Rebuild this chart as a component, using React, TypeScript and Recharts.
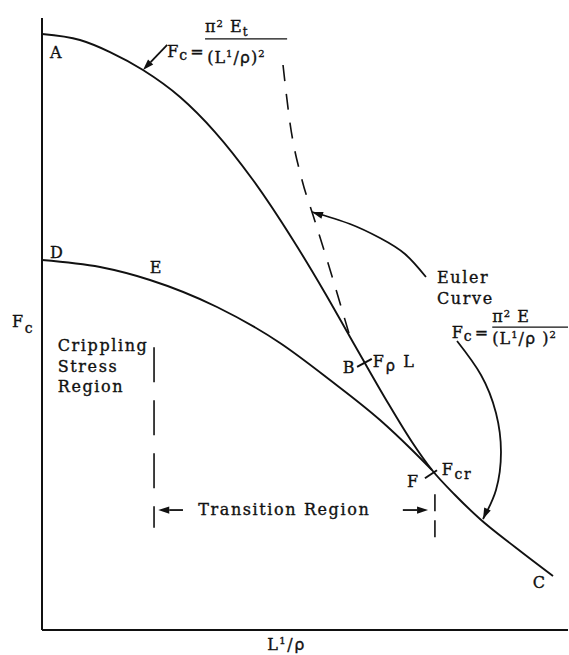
import React from 'react';
import { LineChart, Line, XAxis, YAxis, ReferenceLine, ReferenceDot } from 'recharts';

// Column curve: tangent-modulus branch from A, joining the Euler curve near B and running through F to C
const curveAC_x = [0, 7.22, 12.93, 19.2, 26.24, 32.89, 40.11, 47.72, 53.8, 58.56, 60.84, 65.78, 70.34, 74.14, 78.52, 83.27, 89.92, 97.15];
const curveAC_y = [97.39, 96.41, 94.44, 91.5, 87.09, 81.37, 73.53, 63.73, 55.07, 47.88, 44.44, 37.09, 30.72, 26.14, 22.06, 18.14, 13.56, 8.82];

// Euler curve above its tangency point (not valid there, drawn dashed)
const eulerUpper_x = [45.82, 47.15, 49.43, 51.52, 54.37, 58.56];
const eulerUpper_y = [92.32, 82.84, 73.53, 67.81, 59.97, 47.88];

// Crippling stress curve D–E running into F
const crippling_x = [0, 11.03, 20.53, 33.27, 45.25, 54.75, 64.26, 70.15, 74.14];
const crippling_y = [60.46, 59.31, 57.19, 52.78, 46.9, 40.85, 34.31, 29.58, 26.14];

// Curved leader from the "Euler Curve" note to the dashed branch
const eulerLeader_x = [73.0, 69.01, 64.26, 58.56, 51.33];
const eulerLeader_y = [57.68, 61.44, 64.05, 66.34, 68.3];

// Curved leader from the Euler formula down to the curve beyond F
const formulaLeader_x = [78.9, 83.46, 86.31, 87.26, 86.31, 83.84];
const formulaLeader_y = [47.22, 41.67, 35.46, 29.08, 22.88, 18.14];

const pts = (xs: number[], ys: number[]) => xs.map((x, i) => ({ x, y: ys[i] }));

const FONT = '"DejaVu Serif", "Liberation Serif", serif';
const GREEK = '"DejaVu Sans", sans-serif';
const INK = '#111';

type Pt = { x: number; y: number };

// Draws a filled arrowhead at (x2, y2), optionally with the shaft
const arrowShape = (withShaft: boolean) => (p: any) => {
  const { x1, y1, x2, y2 } = p;
  const a = Math.atan2(y2 - y1, x2 - x1);
  const len = 11;
  const half = 3.6;
  const bx = x2 - len * Math.cos(a);
  const by = y2 - len * Math.sin(a);
  const nx = -Math.sin(a) * half;
  const ny = Math.cos(a) * half;
  return (
    <g>
      {withShaft && <line x1={x1} y1={y1} x2={bx} y2={by} stroke={INK} strokeWidth={1.8} />}
      <polygon points={`${x2},${y2} ${bx + nx},${by + ny} ${bx - nx},${by - ny}`} fill={INK} />
    </g>
  );
};

type Note = { x: number; y: number; body: React.ReactNode; spacing?: number };

const notes: Note[] = [
  { x: 1.5, y: 93.5, body: 'A' },
  { x: 1.5, y: 60.8, body: 'D' },
  { x: 20.5, y: 58.3, body: 'E' },
  { x: 57.2, y: 42.0, body: 'B' },
  { x: 69.4, y: 23.4, body: 'F' },
  { x: 93.3, y: 6.9, body: 'C' },
  { x: 3.0, y: 45.6, body: 'Crippling' },
  { x: 3.0, y: 42.2, body: 'Stress' },
  { x: 3.0, y: 38.9, body: 'Region' },
  { x: 75.1, y: 56.7, body: 'Euler' },
  { x: 75.1, y: 53.3, body: 'Curve' },
  { x: 29.7, y: 18.8, body: 'Transition  Region' },
  { x: -5.7, y: 49.5, body: <>F<tspan dy={6} fontSize={14}>c</tspan></> },
  { x: 62.9, y: 43.0, body: <>F<tspan dy={4} fontFamily={GREEK} fontSize={15}>ρ</tspan><tspan dy={-4}> L</tspan></> },
  { x: 76.0, y: 25.3, body: <>F<tspan dy={4} fontSize={14}>cr</tspan></> },
  { x: 42.8, y: -3.3, body: <>L<tspan dy={-6} fontSize={10}>1</tspan><tspan dy={6}>/</tspan><tspan fontFamily={GREEK}>ρ</tspan></> },
  // tangent-modulus formula
  { x: 23.8, y: 93.6, spacing: 1, body: <>F<tspan dy={3} fontSize={14}>c</tspan><tspan dy={-3} dx={2}>=</tspan></> },
  { x: 31.0, y: 97.7, spacing: 1, body: <>π<tspan dy={-5} fontSize={10}>2</tspan><tspan dy={5}> E</tspan><tspan dy={4} fontSize={12}>t</tspan></> },
  { x: 31.4, y: 92.6, spacing: 1, body: <>(L<tspan dy={-6} fontSize={10}>1</tspan><tspan dy={6}>/</tspan><tspan fontFamily={GREEK}>ρ</tspan>)<tspan dy={-6} fontSize={10}>2</tspan></> },
  // Euler formula
  { x: 77.9, y: 47.7, spacing: 1, body: <>F<tspan dy={3} fontSize={14}>c</tspan><tspan dy={-3} dx={2}>=</tspan></> },
  { x: 85.6, y: 50.3, spacing: 1, body: <>π<tspan dy={-5} fontSize={10}>2</tspan><tspan dy={5}> E</tspan></> },
  { x: 85.6, y: 46.7, spacing: 1, body: <>(L<tspan dy={-6} fontSize={10}>1</tspan><tspan dy={6}>/</tspan><tspan fontFamily={GREEK}>ρ</tspan> )<tspan dy={-6} fontSize={10}>2</tspan></> },
];

type Seg = { from: Pt; to: Pt; dash?: string; width?: number; shape?: (p: any) => React.ReactElement };

const segments: Seg[] = [
  // axes
  { from: { x: 0, y: 0 }, to: { x: 100, y: 0 }, width: 2 },
  { from: { x: 0, y: 0 }, to: { x: 0, y: 100 }, width: 2 },
  // limits of the transition region
  { from: { x: 21.3, y: 46.2 }, to: { x: 21.3, y: 16.7 }, dash: '35 18', width: 1.6 },
  { from: { x: 74.7, y: 22.2 }, to: { x: 74.7, y: 15.0 }, dash: '17 9', width: 1.6 },
  // marks at B and F
  { from: { x: 59.9, y: 43.0 }, to: { x: 62.7, y: 44.3 }, width: 2 },
  { from: { x: 72.8, y: 24.8 }, to: { x: 75.1, y: 26.1 }, width: 2 },
  // fraction bars
  { from: { x: 31.0, y: 96.6 }, to: { x: 46.6, y: 96.6 }, width: 1.2 },
  { from: { x: 85.6, y: 49.5 }, to: { x: 100, y: 49.5 }, width: 1.2 },
  // straight leaders
  { from: { x: 23.8, y: 95.6 }, to: { x: 19.2, y: 91.5 }, shape: arrowShape(true) },
  { from: { x: 26.8, y: 19.6 }, to: { x: 22.1, y: 19.6 }, shape: arrowShape(true) },
  { from: { x: 68.6, y: 19.6 }, to: { x: 73.4, y: 19.6 }, shape: arrowShape(true) },
  // heads of the curved leaders
  { from: { x: 58.56, y: 66.34 }, to: { x: 51.33, y: 68.3 }, shape: arrowShape(false) },
  { from: { x: 86.31, y: 22.88 }, to: { x: 83.84, y: 18.14 }, shape: arrowShape(false) },
];

export default function App() {
  return (
    <div style={{ position: 'absolute', left: 0, top: 0, background: '#fff' }}>
      <LineChart width={569} height={655} margin={{ top: 18, right: 1, bottom: 25, left: 42 }}>
        <XAxis type="number" dataKey="x" domain={[0, 100]} hide allowDataOverflow />
        <YAxis type="number" dataKey="y" domain={[0, 100]} hide allowDataOverflow />

        {segments.map((s, i) => (
          <ReferenceLine
            key={`seg-${i}`}
            segment={[s.from, s.to]}
            stroke={INK}
            strokeWidth={s.width ?? 1.8}
            strokeDasharray={s.dash}
            ifOverflow="visible"
            shape={s.shape}
          />
        ))}

        <Line data={pts(curveAC_x, curveAC_y)} dataKey="y" type="monotone" stroke={INK} strokeWidth={1.9} dot={false} isAnimationActive={false} />
        <Line data={pts(eulerUpper_x, eulerUpper_y)} dataKey="y" type="monotone" stroke={INK} strokeWidth={1.6} strokeDasharray="16 13" dot={false} isAnimationActive={false} />
        <Line data={pts(crippling_x, crippling_y)} dataKey="y" type="monotone" stroke={INK} strokeWidth={1.9} dot={false} isAnimationActive={false} />
        <Line data={pts(eulerLeader_x, eulerLeader_y)} dataKey="y" type="natural" stroke={INK} strokeWidth={1.8} dot={false} isAnimationActive={false} />
        <Line data={pts(formulaLeader_x, formulaLeader_y)} dataKey="y" type="natural" stroke={INK} strokeWidth={1.8} dot={false} isAnimationActive={false} />

        {notes.map((n, i) => (
          <ReferenceDot
            key={`note-${i}`}
            x={n.x}
            y={n.y}
            r={1}
            ifOverflow="visible"
            shape={(p: any) => (
              <text
                x={p.cx}
                y={p.cy}
                fontFamily={FONT}
                fontSize={16}
                fill={INK}
                stroke={INK}
                strokeWidth={0.35}
                letterSpacing={n.spacing ?? 1.6}
              >
                {n.body}
              </text>
            )}
          />
        ))}
      </LineChart>
    </div>
  );
}
